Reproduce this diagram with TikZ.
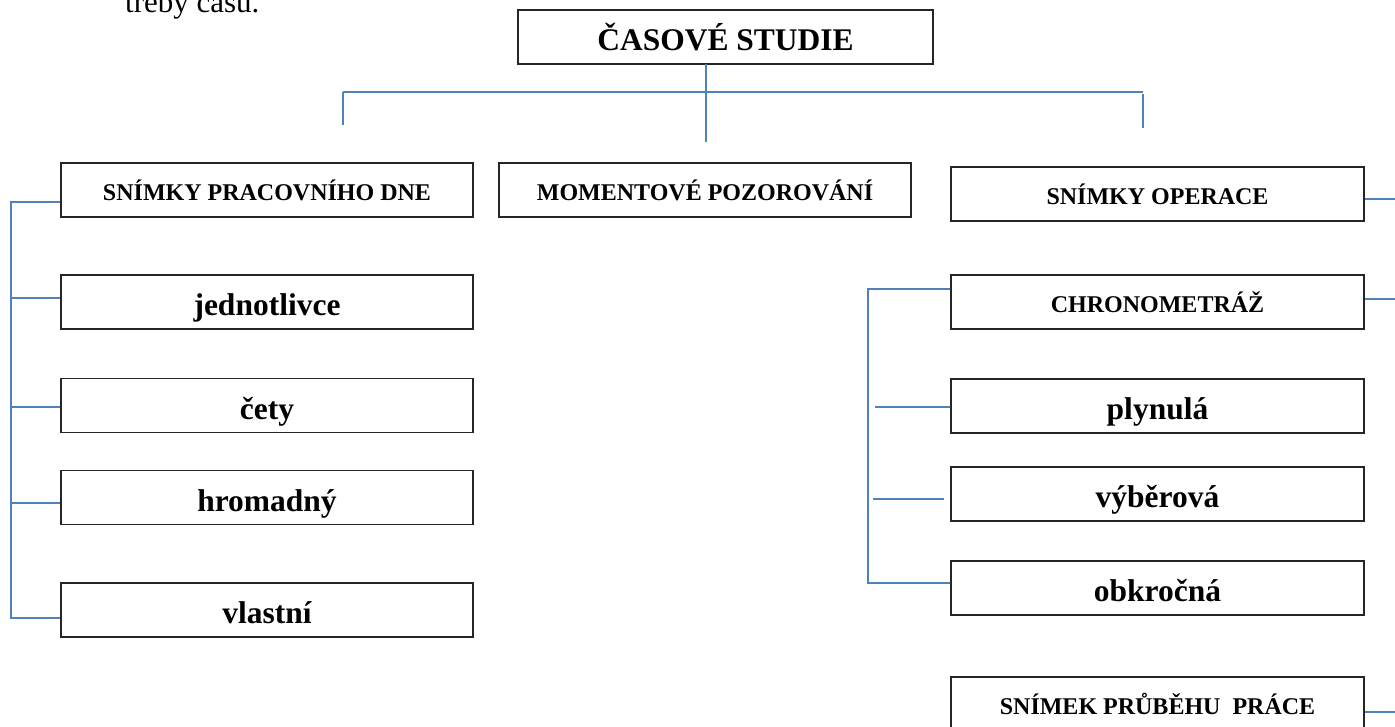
\documentclass[tikz,border=0pt]{standalone}
\usepackage{fontspec}
\setmainfont{Liberation Serif}
\definecolor{linkblue}{HTML}{4F81BD}
\begin{document}
\begin{tikzpicture}[x=1pt,y=-1pt,
  box/.style={draw=black!85, line width=1.3pt, fill=white,
    minimum width=412pt, minimum height=54pt, inner sep=0pt,
    text height=27pt, text depth=0pt,
    font=\bfseries\fontsize{31.5}{31.5}\selectfont},
  capbox/.style={draw=black!85, line width=1.3pt, fill=white,
    minimum width=412pt, minimum height=54pt, inner sep=0pt,
    font=\bfseries\fontsize{24}{24}\selectfont},
  link/.style={draw=linkblue, line width=1.8pt}]
\useasboundingbox (0,0) rectangle (1395,726);

% running text above the chart
\node[anchor=base west, inner sep=0pt, font=\fontsize{31}{31}\selectfont] (intro) at (125,12) {třeby času.};

% root
\node[capbox, minimum width=415pt, font=\bfseries\fontsize{31.5}{31.5}\selectfont] (root) at (725.5,37) {ČASOVÉ STUDIE};

% left column
\node[capbox] (spd)  at (267,190)   {SNÍMKY PRACOVNÍHO DNE};
\node[box]    (jed)  at (267,302)   {jednotlivce};
\node[box]    (cety) at (267,405.5) {čety};
\node[box]    (hrom) at (267,497.5) {hromadný};
\node[box]    (vla)  at (267,610)   {vlastní};

% middle column
\node[capbox] (mom)  at (705,190)   {MOMENTOVÉ POZOROVÁNÍ};

% right column
\node[capbox, minimum width=413pt] (sop)  at (1157.5,194) {SNÍMKY OPERACE};
\node[capbox, minimum width=413pt] (chr)  at (1157.5,302) {CHRONOMETRÁŽ};
\node[box,    minimum width=413pt] (ply)  at (1157.5,406) {plynulá};
\node[box,    minimum width=413pt] (vyb)  at (1157.5,494) {výběrová};
\node[box,    minimum width=413pt] (obk)  at (1157.5,588) {obkročná};
\node[capbox, minimum width=413pt] (spp)  at (1157.5,704) {SNÍMEK PRŮBĚHU\ \ PRÁCE};

% top bus
\coordinate (stemtop) at (706,64);
\coordinate (stembot) at (706,142);
\coordinate (busl) at (343,92);
\coordinate (busr) at (1143,92);
\coordinate (dropl) at (343,125);
\coordinate (dropr0) at (1143,94);
\coordinate (dropr) at (1143,128);
\draw[link] (stemtop) -- (stembot);
\draw[link] (busl) -- (busr);
\draw[link] (busl) -- (dropl);
\draw[link] (dropr0) -- (dropr);

% left bracket
\coordinate (lb1) at (11,202);
\coordinate (lb2) at (11,298);
\coordinate (lb3) at (11,407);
\coordinate (lb4) at (11,503);
\coordinate (lb5) at (11,618);
\draw[link] (spd.west |- lb1) -- (lb1) -- (lb5) -- (vla.west |- lb5);
\draw[link] (lb2) -- (jed.west |- lb2);
\draw[link] (lb3) -- (cety.west |- lb3);
\draw[link] (lb4) -- (hrom.west |- lb4);

% right bracket
\coordinate (rb1) at (868,289);
\coordinate (rb2) at (875,407);
\coordinate (rb3) at (873,499);
\coordinate (rb3e) at (944,499);
\coordinate (rb4) at (868,583);
\draw[link] (chr.west |- rb1) -- (rb1) -- (rb4) -- (obk.west |- rb4);
\draw[link] (rb2) -- (ply.west |- rb2);
\draw[link] (rb3) -- (rb3e);

% outgoing stubs on the right edge
\coordinate (o1) at (1395,199);
\coordinate (o2) at (1395,299);
\coordinate (o3) at (1395,712);
\draw[link] (sop.east |- o1) -- (o1);
\draw[link] (chr.east |- o2) -- (o2);
\draw[link] (spp.east |- o3) -- (o3);
\end{tikzpicture}
\end{document}
